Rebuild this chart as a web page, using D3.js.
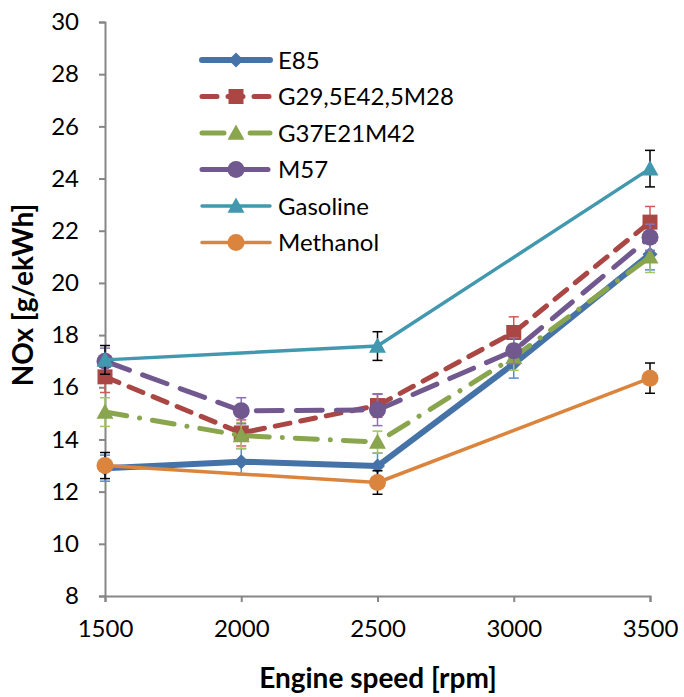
<!DOCTYPE html>
<html><head><meta charset="utf-8">
<script src="https://cdn.jsdelivr.net/npm/d3@7"></script>
<style>body{margin:0;background:#fff;} svg{display:block;}</style>
</head><body><div id="chart"></div>
<script>
const speeds = [1500, 2000, 2500, 3000, 3500];
const speeds3 = [1500, 2500, 3500];
const yTicks = [8, 10, 12, 14, 16, 18, 20, 22, 24, 26, 28, 30];
const xTicks = [1500, 2000, 2500, 3000, 3500];

const e85 = [12.9, 13.15, 12.98, 16.9, 21.1];
const e85Err = [0.5, 0.5, 0.5, 0.55, 0.6];
const g29 = [16.4, 14.25, 15.3, 18.1, 22.33];
const g29Err = [0.6, 0.5, 0.45, 0.6, 0.6];
const g37 = [15.05, 14.15, 13.9, 17.15, 21.0];
const g37Err = [0.55, 0.5, 0.42, 0.5, 0.6];
const m57 = [17.0, 15.1, 15.13, 17.4, 21.75];
const m57Err = [0.5, 0.5, 0.6, 0.5, 0.5];
const gasoline = [17.05, 17.58, 24.38];
const gasolineErr = [0.55, 0.55, 0.7];
const methanol = [13.0, 12.35, 16.35];
const methanolErr = [0.5, 0.45, 0.58];

const seriesNames = ["E85", "G29,5E42,5M28", "G37E21M42", "M57", "Gasoline", "Methanol"];

const series = [
  {name: seriesNames[0], x: speeds, y: e85, err: e85Err, color: "#4572A7", errColor: "#5b8bd0", width: 6, dash: null, marker: "diamond", size: 15},
  {name: seriesNames[1], x: speeds, y: g29, err: g29Err, color: "#AA4643", errColor: "#d05a57", width: 5, dash: "15,11", marker: "square", size: 15},
  {name: seriesNames[2], x: speeds, y: g37, err: g37Err, color: "#89A54E", errColor: "#a3c663", width: 5, dash: "22,13,0.1,13", marker: "triangle", size: 17},
  {name: seriesNames[3], x: speeds, y: m57, err: m57Err, color: "#71588F", errColor: "#8d70b3", width: 5, dash: "26,14", marker: "circle", size: 17},
  {name: seriesNames[4], x: speeds3, y: gasoline, err: gasolineErr, color: "#4198AF", errColor: "#000", width: 3.5, dash: null, marker: "triangle", size: 17},
  {name: seriesNames[5], x: speeds3, y: methanol, err: methanolErr, color: "#DB843D", errColor: "#000", width: 3.5, dash: null, marker: "circle", size: 17}
];

const W = 684, H = 697;
const m = {left: 105, right: 34, top: 22, bottom: 101};
const svg = d3.select("#chart").append("svg").attr("width", W).attr("height", H);
const x = d3.scaleLinear().domain([1500, 3500]).range([m.left, W - m.right]);
const y = d3.scaleLinear().domain([8, 30]).range([H - m.bottom, m.top]);
const font = "Lato, 'Open Sans', sans-serif";
const axisColor = "#868686";

// axes
const yAxis = svg.append("g").attr("transform", `translate(${m.left},0)`)
  .call(d3.axisLeft(y).tickValues(yTicks).tickSize(6).tickPadding(20).tickFormat(d3.format("d")));
const xAxis = svg.append("g").attr("transform", `translate(0,${H - m.bottom})`)
  .call(d3.axisBottom(x).tickValues(xTicks).tickSize(6).tickPadding(18).tickFormat(d3.format("d")));
[yAxis, xAxis].forEach(g => {
  g.select(".domain").attr("stroke", axisColor).attr("stroke-width", 2);
  g.selectAll(".tick line").attr("stroke", axisColor).attr("stroke-width", 2);
  g.selectAll("text").attr("fill", "#000").style("font-family", font).style("font-size", "24px");
});

svg.append("text").attr("transform", `translate(33,295) rotate(-90)`)
  .attr("text-anchor", "middle").style("font-family", font).style("font-weight", "bold").style("font-size", "28px")
  .text("NOx [g/ekWh]");
svg.append("text").attr("x", 378).attr("y", 688)
  .attr("text-anchor", "middle").style("font-family", font).style("font-weight", "bold").style("font-size", "28px")
  .text("Engine speed [rpm]");

function markerPath(type, s) {
  const h = s / 2;
  if (type === "diamond") return `M0,${-h}L${h},0L0,${h}L${-h},0Z`;
  if (type === "square") return `M${-h},${-h}H${h}V${h}H${-h}Z`;
  if (type === "triangle") return `M0,${-h}L${h},${h * 0.8}L${-h},${h * 0.8}Z`;
  return d3.arc()({innerRadius: 0, outerRadius: h, startAngle: 0, endAngle: 2 * Math.PI});
}

const line = d3.line().x(d => x(d[0])).y(d => y(d[1]));

series.forEach(s => {
  const pts = s.x.map((v, i) => [v, s.y[i], s.err[i]]);
  const g = svg.append("g");
  g.append("path").attr("d", line(pts)).attr("fill", "none").attr("stroke", s.color)
    .attr("stroke-width", s.width).attr("stroke-linecap", "round").attr("stroke-linejoin", "round")
    .attr("stroke-dasharray", s.dash);
  pts.forEach(p => {
    const cx = x(p[0]), y1 = y(p[1] - p[2]), y2 = y(p[1] + p[2]);
    g.append("line").attr("x1", cx).attr("x2", cx).attr("y1", y1).attr("y2", y2).attr("stroke", s.errColor).attr("stroke-width", 1.5);
    [y1, y2].forEach(yy => g.append("line").attr("x1", cx - 5).attr("x2", cx + 5).attr("y1", yy).attr("y2", yy).attr("stroke", s.errColor).attr("stroke-width", 1.5));
  });
  g.selectAll(".mk").data(pts).enter().append("path")
    .attr("transform", d => `translate(${x(d[0])},${y(d[1])})`)
    .attr("d", markerPath(s.marker, s.size)).attr("fill", s.color);
});

// legend
const leg = svg.append("g");
series.forEach((s, i) => {
  const ly = 60 + i * 36.5;
  const row = leg.append("g").attr("transform", `translate(0,${ly})`);
  row.append("line").attr("x1", 202).attr("x2", 270).attr("y1", 0).attr("y2", 0)
    .attr("stroke", s.color).attr("stroke-width", s.width).attr("stroke-linecap", "round")
    .attr("stroke-dasharray", s.dash);
  row.append("path").attr("transform", "translate(236,0)").attr("d", markerPath(s.marker, s.size)).attr("fill", s.color);
  row.append("text").attr("x", 278).attr("y", 0).attr("dy", "0.36em")
    .style("font-family", font).style("font-size", "24px").text(s.name);
});
</script></body></html>
